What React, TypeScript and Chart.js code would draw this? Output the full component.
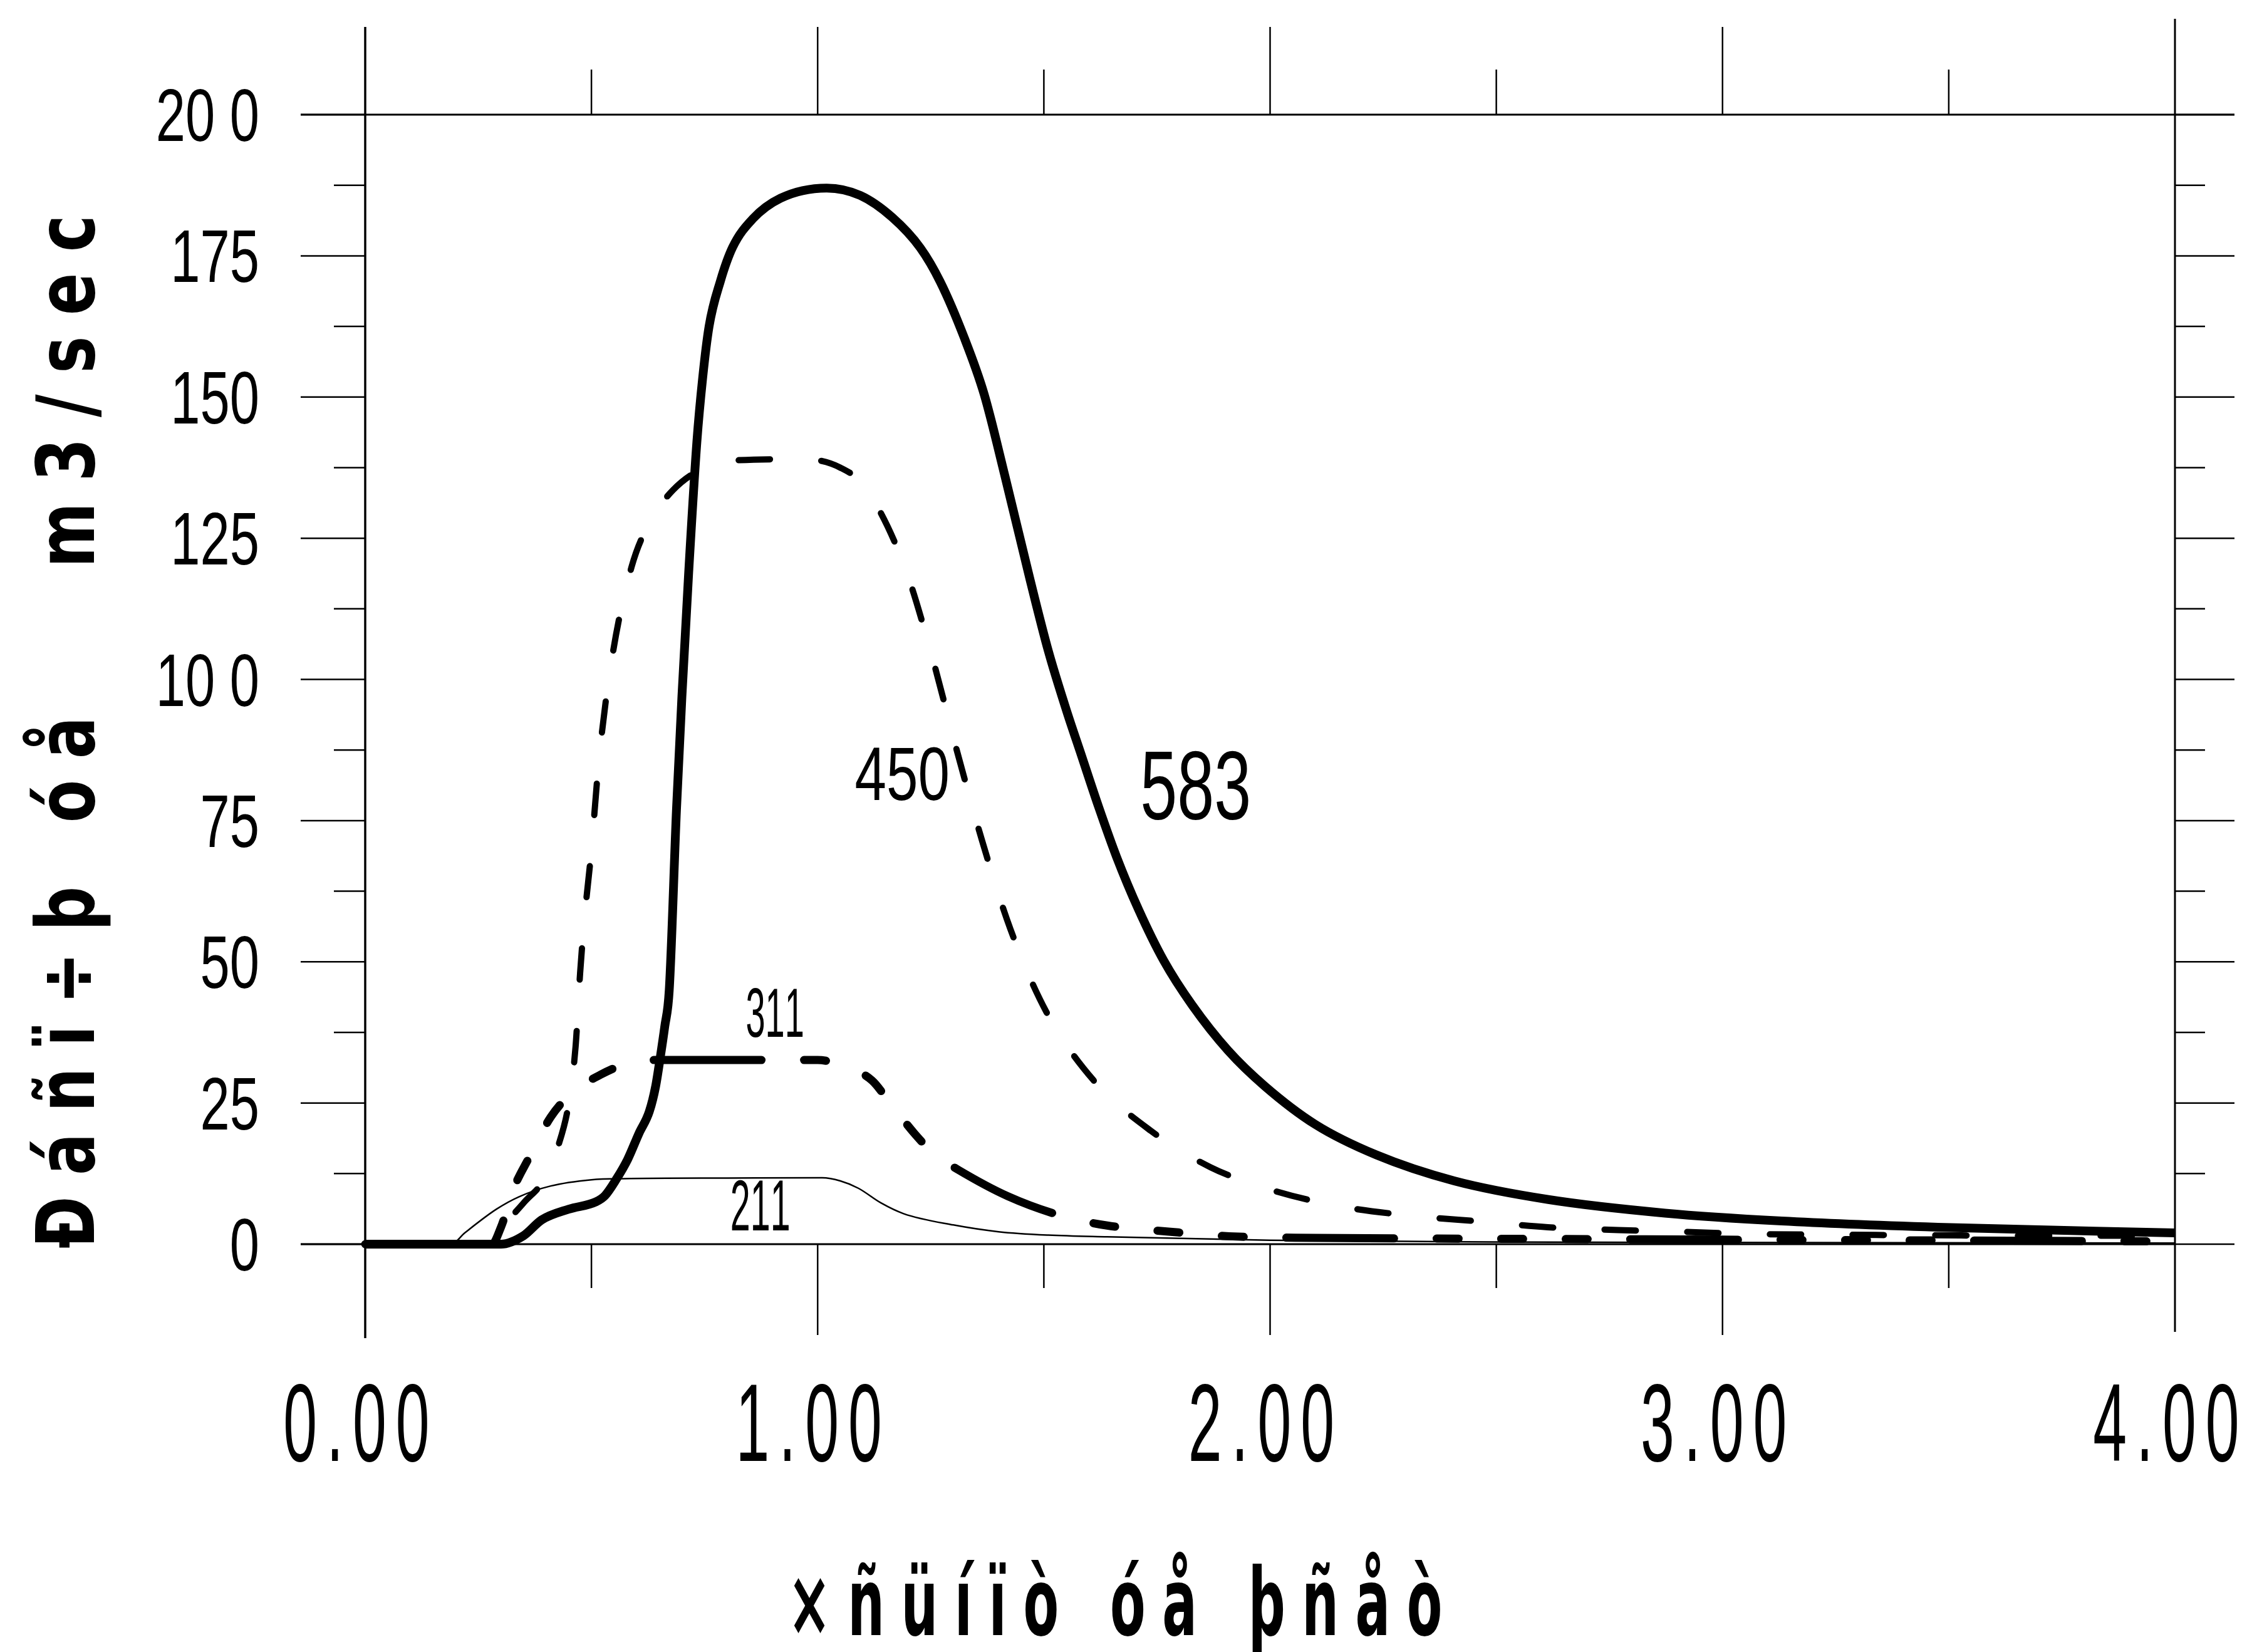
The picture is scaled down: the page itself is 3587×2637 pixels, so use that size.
import React, { useEffect, useRef } from "react";
import { Chart, registerables } from "chart.js";

Chart.register(...registerables);

const W = 3587;
const H = 2637;

// ---- data (hours, m3/sec) ----
const hours583 = [0, 0.3, 0.35, 0.39, 0.45, 0.51, 0.53, 0.555, 0.58, 0.605, 0.628, 0.642, 0.652, 0.662, 0.672, 0.688, 0.7, 0.715, 0.733, 0.746, 0.76, 0.785, 0.812, 0.856, 0.918, 1.02, 1.094, 1.165, 1.227, 1.271, 1.324, 1.368, 1.414, 1.47, 1.51, 1.55, 1.582, 1.622, 1.661, 1.709, 1.765, 1.828, 1.907, 1.988, 2.1, 2.235, 2.407, 2.615, 2.873, 3.131, 3.476, 4.0];
const flow583 = [0, 0, 1.5, 4.3, 6.2, 7.5, 8.6, 11.5, 15, 19.6, 23.5, 28, 33, 38.5, 45, 77, 97, 119, 142, 153.5, 162.5, 170.5, 176.5, 181.5, 185.2, 187, 185.7, 181.8, 176.4, 170.4, 160.5, 150.5, 136, 117.5, 105, 94.5, 86.8, 77.2, 68.5, 59.3, 50.2, 42.3, 34.3, 28, 21.2, 15.8, 11.2, 7.9, 5.5, 4.1, 3, 2];

const hours450 = [0, 0.27, 0.3, 0.35, 0.4, 0.425, 0.45, 0.465, 0.475, 0.485, 0.499, 0.517, 0.546, 0.589, 0.63, 0.68, 0.75, 0.82, 0.97, 1.05, 1.105, 1.192, 1.253, 1.307, 1.364, 1.426, 1.505, 1.61, 1.736, 1.869, 2.011, 2.162, 2.317, 2.467, 2.614, 2.77, 2.91, 3.06, 3.22, 3.4, 3.7, 4.0];
const flow450 = [0, 0, 2.8, 7.3, 12, 17, 25, 35, 48, 58, 69, 86, 104, 120, 128, 133.5, 137.5, 138.8, 139, 137.5, 134, 120, 104, 87.6, 71.3, 55.8, 41.2, 29, 20.1, 13.6, 9.4, 6.6, 5, 4, 3, 2.5, 2.2, 1.8, 1.7, 1.6, 1.5, 1.5];

const hours311 = [0, 0.28, 0.3, 0.33, 0.36, 0.41, 0.46, 0.52, 0.58, 0.64, 0.88, 1.0, 1.06, 1.12, 1.16, 1.215, 1.26, 1.31, 1.42, 1.54, 1.64, 1.78, 1.91, 2.1, 2.36, 3.0, 4.0];
const flow311 = [0, 0, 3, 10.2, 15, 22.5, 27, 30, 32, 32.6, 32.6, 32.6, 31.5, 29, 25, 19.5, 15.8, 13.2, 8.5, 5, 3.3, 2.2, 1.4, 1.1, 1.0, 0.8, 0.5];

const hours211 = [0, 0.19, 0.22, 0.29, 0.34, 0.41, 0.5, 0.57, 0.8, 1.01, 1.05, 1.09, 1.14, 1.19, 1.3, 1.4, 1.51, 1.64, 2.0, 2.5, 3.0, 4.0];
const flow211 = [0, 0, 2, 6.2, 8.4, 10.3, 11.4, 11.6, 11.7, 11.75, 11.2, 9.9, 7.3, 5.4, 3.4, 2.2, 1.6, 1.3, 0.7, 0.4, 0.3, 0.2];

const seriesNames = ["583", "450", "311", "211"];

const xTickValues = [0, 1, 2, 3, 4];
const xTickLabels = ["0.00", "1.00", "2.00", "3.00", "4.00"];
const yTickValues = [0, 25, 50, 75, 100, 125, 150, 175, 200];
const yTickLabels = ["0", "25", "50", "75", "10 0", "125", "150", "175", "20 0"];

const xTitle = "×ñüíïò óå þñåò";
const yTitle = "Ðáñï÷þ óå   m3/sec";

// label anchors (data space) for the curve names
const labelHours = [1.713, 1.082, 0.841, 0.807];
const labelFlows = [75.3, 78.6, 36.7, 2.4];

type TextOpts = {
  size: number;
  weight?: string;
  family?: string;
  sx?: number;
  spacing?: number;
  align?: "left" | "center" | "right";
  fit?: number;
};

function drawText(ctx: CanvasRenderingContext2D, text: string, x: number, y: number, o: TextOpts) {
  ctx.save();
  ctx.font = `${o.weight || "normal"} ${o.size}px ${o.family || "'Liberation Sans', Arial, sans-serif"}`;
  ctx.textBaseline = "alphabetic";
  ctx.textAlign = "left";
  ctx.fillStyle = "#000";
  const sx = o.sx ?? 1;
  const chars = Array.from(text);
  const widths = chars.map((c) => ctx.measureText(c).width * sx);
  const sum = widths.reduce((a, b) => a + b, 0);
  let spacing = o.spacing ?? 0;
  if (o.fit && chars.length > 1) spacing = (o.fit - sum) / (chars.length - 1);
  const total = sum + spacing * (chars.length - 1);
  let cx = o.align === "center" ? x - total / 2 : o.align === "right" ? x - total : x;
  chars.forEach((c, i) => {
    ctx.save();
    ctx.translate(cx, y);
    ctx.scale(sx, 1);
    ctx.fillText(c, 0, 0);
    ctx.restore();
    cx += widths[i] + spacing;
  });
  ctx.restore();
}

function line(ctx: CanvasRenderingContext2D, x1: number, y1: number, x2: number, y2: number, w: number) {
  ctx.beginPath();
  ctx.lineWidth = w;
  ctx.moveTo(x1, y1);
  ctx.lineTo(x2, y2);
  ctx.stroke();
}

const framePlugin = {
  id: "framePlugin",
  beforeDraw(chart: any) {
    const ctx = chart.ctx;
    ctx.save();
    ctx.fillStyle = "#fff";
    ctx.fillRect(0, 0, chart.width, chart.height);
    ctx.restore();
  },
  beforeDatasetsDraw(chart: any) {
    const ctx: CanvasRenderingContext2D = chart.ctx;
    const xs = chart.scales.x;
    const ys = chart.scales.y;
    const x0 = xs.getPixelForValue(0);
    const x4 = xs.getPixelForValue(4);
    const y0 = ys.getPixelForValue(0);
    const y200 = ys.getPixelForValue(200);
    ctx.save();
    ctx.strokeStyle = "#000";
    ctx.lineCap = "butt";
    // axes / frame
    line(ctx, x0, 43, x0, y0 + 150, 3.5);
    line(ctx, x4, 30, x4, y0 + 140, 3);
    line(ctx, x0 - 103, y200, x4 + 95, y200, 3);
    line(ctx, x0 - 103, y0, x4, y0, 3);
    // x ticks top & bottom, every 0.5 h
    for (let h = 0.5; h < 4; h += 0.5) {
      const px = xs.getPixelForValue(h);
      const major = Math.abs(h - Math.round(h)) < 1e-6;
      line(ctx, px, y200, px, y200 - (major ? 140 : 72), 2.5);
      line(ctx, px, y0, px, y0 + (major ? 145 : 70), 2.5);
    }
    // y ticks left & right, every 12.5
    for (let v = 0; v <= 200; v += 12.5) {
      const py = ys.getPixelForValue(v);
      const major = v % 25 === 0;
      line(ctx, x0, py, x0 - (major ? 103 : 50), py, 2.5);
      line(ctx, x4, py, x4 + (major ? 95 : 48), py, 2.5);
    }
    ctx.restore();
  },
  afterDatasetsDraw(chart: any) {
    const ctx: CanvasRenderingContext2D = chart.ctx;
    const xs = chart.scales.x;
    const ys = chart.scales.y;
    // y tick labels
    yTickValues.forEach((v, i) => {
      const py = ys.getPixelForValue(v);
      drawText(ctx, yTickLabels[i], 414, py + 42, { size: 118, sx: 0.72, align: "right" });
    });
    // x tick labels
    xTickValues.forEach((h, i) => {
      const px = xs.getPixelForValue(h);
      drawText(ctx, xTickLabels[i], px - 14, 2332, { size: 176, sx: 0.55, spacing: 15, align: "center" });
    });
    // x title
    drawText(ctx, xTitle, 1780, 2610, {
      size: 150,
      weight: "bold",
      family: "'DejaVu Sans', sans-serif",
      sx: 0.55,
      fit: 1045,
      align: "center",
    });
    // y title (rotated)
    ctx.save();
    ctx.translate(150, 1168);
    ctx.rotate(-Math.PI / 2);
    drawText(ctx, yTitle, 0, 0, {
      size: 128,
      weight: "bold",
      family: "'DejaVu Sans', sans-serif",
      sx: 0.78,
      fit: 1650,
      align: "center",
    });
    ctx.restore();
    // curve labels
    const labelSizes = [156, 121, 112, 115];
    const labelSx = [0.68, 0.75, 0.5, 0.5];
    seriesNames.forEach((name, i) => {
      drawText(ctx, name, xs.getPixelForValue(labelHours[i]), ys.getPixelForValue(labelFlows[i]), {
        size: labelSizes[i],
        sx: labelSx[i],
        align: "left",
      });
    });
  },
};

function toPoints(hs: number[], qs: number[]) {
  return hs.map((h, i) => ({ x: h, y: qs[i] }));
}

export default function App() {
  const ref = useRef<HTMLCanvasElement | null>(null);
  useEffect(() => {
    if (!ref.current) return;
    const common = {
      pointRadius: 0,
      fill: false,
      cubicInterpolationMode: "monotone" as const,
      borderColor: "#000",
      borderJoinStyle: "round" as const,
      clip: false as const,
    };
    const chart = new Chart(ref.current, {
      type: "line",
      data: {
        datasets: [
          { ...common, label: seriesNames[3], data: toPoints(hours211, flow211), borderWidth: 2.5 },
          {
            ...common,
            label: seriesNames[2],
            data: toPoints(hours311, flow311),
            borderWidth: 13,
            borderDash: [172, 68, 35, 68, 35, 68, 35, 68],
            borderDashOffset: 476,
            borderCapStyle: "round",
          },
          {
            ...common,
            label: seriesNames[1],
            data: toPoints(hours450, flow450),
            borderWidth: 10,
            borderDash: [50, 82],
            borderCapStyle: "round",
          },
          { ...common, label: seriesNames[0], data: toPoints(hours583, flow583), borderWidth: 14 },
        ],
      },
      options: {
        responsive: false,
        animation: false,
        devicePixelRatio: 1,
        layout: { padding: { left: 583, right: W - 3472, top: 183, bottom: H - 1986 } },
        scales: {
          x: { type: "linear", min: 0, max: 4, display: false },
          y: { type: "linear", min: 0, max: 200, display: false },
        },
        plugins: { legend: { display: false }, tooltip: { enabled: false } },
        events: [],
      },
      plugins: [framePlugin],
    });
    return () => chart.destroy();
  }, []);
  return (
    <div style={{ position: "fixed", left: 0, top: 0, width: W, height: H, background: "#fff" }}>
      <canvas ref={ref} width={W} height={H} style={{ width: W, height: H, display: "block" }} />
    </div>
  );
}
